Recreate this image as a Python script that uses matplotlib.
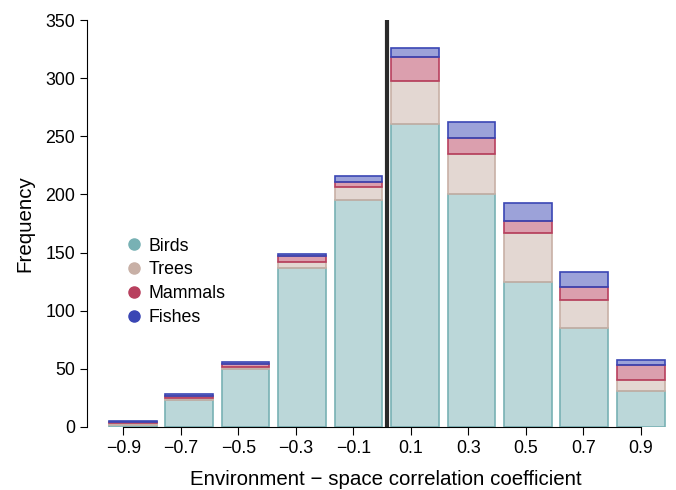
#!/usr/bin/env python

""" stacked frequency of environment-space correlation per taxon """

import numpy as np
import matplotlib.pyplot as plt
from matplotlib.lines import Line2D

plt.rcParams['font.family'] = ['Liberation Sans', 'DejaVu Sans']

# bin labels of the correlation coefficient
bins = [-0.9, -0.7, -0.5, -0.3, -0.1, 0.1, 0.3, 0.5, 0.7, 0.9]
tick_labels = ["\u22120.9", "\u22120.7", "\u22120.5", "\u22120.3", "\u22120.1",
               "0.1", "0.3", "0.5", "0.7", "0.9"]

# counts per group (stacked bottom to top)
birds = [2, 23, 50, 137, 195, 261, 200, 125, 85, 31]
trees = [1, 2, 2, 5, 11, 37, 35, 42, 24, 9]
mammals = [1, 2, 2, 5, 5, 20, 14, 10, 11, 13]
fishes = [1, 1, 2, 2, 5, 8, 13, 16, 13, 5]

groups = ["Birds", "Trees", "Mammals", "Fishes"]
colors = ["#78b1b4", "#c8b0a6", "#b8405e", "#3a46b4"]


def main():
    """ main body """
    fig = plt.figure(figsize=(6.76, 4.90), dpi=100)
    ax = fig.add_axes([0.1287, 0.1286, 0.8593, 0.8304])

    pos = np.arange(len(bins))
    bottom = np.zeros(len(bins))
    for values, color in zip([birds, trees, mammals, fishes], colors):
        ax.bar(pos, values, width=0.845, bottom=bottom, color=color, alpha=0.5,
               edgecolor='none')
        ax.bar(pos, values, width=0.845, bottom=bottom, facecolor='none',
               edgecolor=color, linewidth=1.2)
        bottom += np.array(values)

    # zero line sits between the negative and positive bins
    ax.axvline(4.5, color='#2a2a2a', linewidth=3)

    # tick positions for the coefficient axis (slightly different scale than bars)
    tick_pos = np.linspace(-0.168, 9.0, len(bins))
    ax.set_xticks(tick_pos)
    ax.set_xticklabels(tick_labels)
    ax.set_xlim(-0.81, 9.48)
    ax.set_ylim(0, 350)
    ax.set_yticks(range(0, 351, 50))

    for side in ['top', 'right']:
        ax.spines[side].set_visible(False)
    ax.spines['bottom'].set_bounds(tick_pos[0], tick_pos[-1])
    ax.spines['left'].set_bounds(0, 350)
    ax.tick_params(axis='both', labelsize=12.8, direction='out')
    ax.tick_params(axis='x', length=6)
    ax.tick_params(axis='y', length=5)

    ax.set_xlabel("Environment \u2212 space correlation coefficient", fontsize=14.8)
    ax.xaxis.set_label_coords(0.515, -0.105)
    ax.set_ylabel("Frequency", fontsize=14.8, labelpad=8)

    handles = [Line2D([], [], marker='o', linestyle='', color=c, markersize=8)
               for c in colors]
    fig.legend(handles, groups, loc='upper left', bbox_to_anchor=(0.172, 0.533),
               frameon=False, fontsize=12.8, handlelength=1, handletextpad=0.3,
               labelspacing=0.38, borderpad=0)

    plt.savefig("out.png", dpi=100)
    plt.close()


if __name__ == "__main__":
    main()
